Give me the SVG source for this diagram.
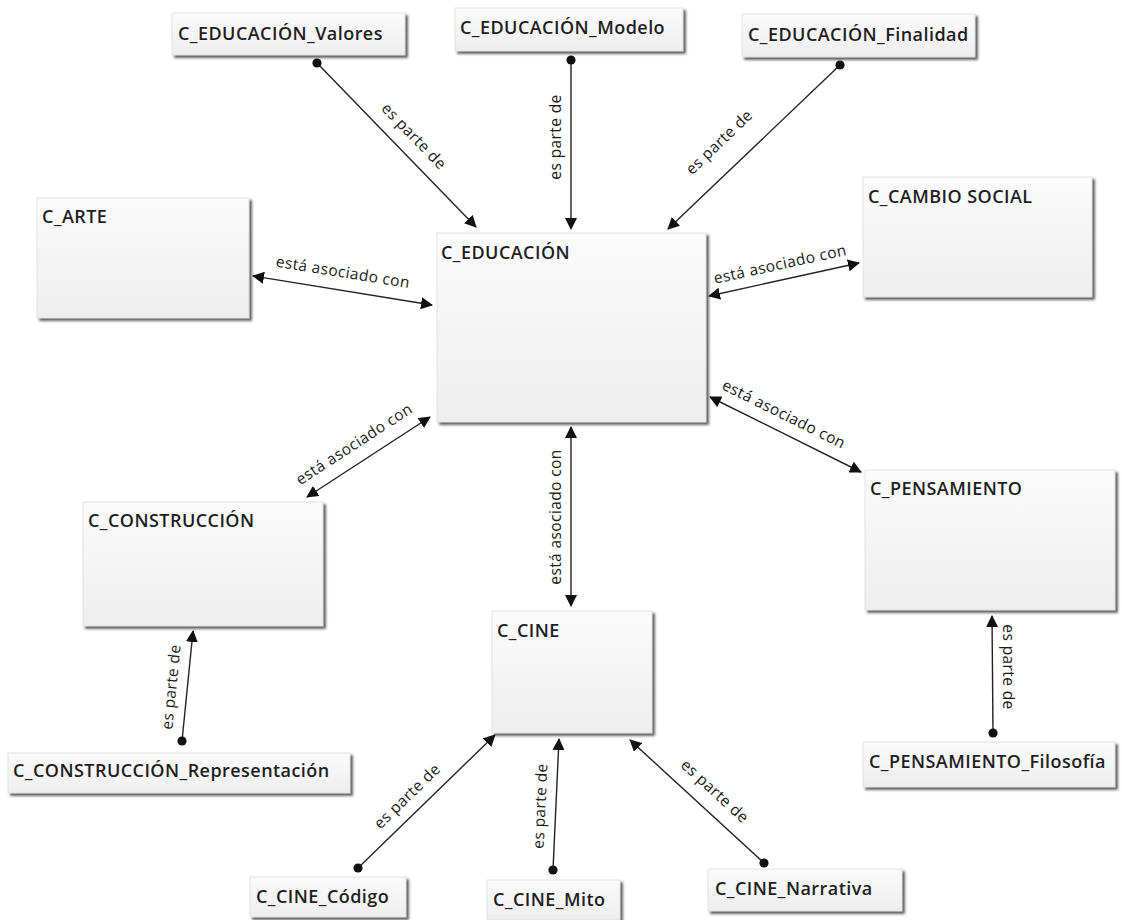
<svg xmlns="http://www.w3.org/2000/svg" width="1122" height="920" viewBox="0 0 1122 920">
<defs>
<linearGradient id="g" x1="0" y1="0" x2="0" y2="1"><stop offset="0" stop-color="#fbfbfb"/><stop offset="1" stop-color="#eeeeee"/></linearGradient>
<filter id="sh" x="-10%" y="-10%" width="125%" height="130%"><feDropShadow dx="2.5" dy="2.5" stdDeviation="1" flood-color="#404040" flood-opacity="0.85"/></filter>
<marker id="arr" viewBox="0 0 12 12" refX="11" refY="6" markerWidth="12" markerHeight="12" markerUnits="userSpaceOnUse" orient="auto-start-reverse"><path d="M0,0 L12,6 L0,12 z" fill="#111"/></marker>
<marker id="dot" viewBox="0 0 10 10" refX="5" refY="5" markerWidth="10" markerHeight="10" markerUnits="userSpaceOnUse"><circle cx="5" cy="5" r="4.6" fill="#111"/></marker>
</defs>
<style>
.box{fill:url(#g);stroke:#dcdcdc;stroke-width:0.8;filter:url(#sh)}
.t{font-family:"Open Sans","Noto Sans",sans-serif;font-weight:600;font-size:18px;letter-spacing:0.45px;fill:#1e1e1e}
.c{fill:none;stroke:#222;stroke-width:1.4}
.p{marker-start:url(#dot);marker-end:url(#arr)}
.a{marker-start:url(#arr);marker-end:url(#arr)}
.l{font-family:"Open Sans","Noto Sans",sans-serif;font-size:15.5px;letter-spacing:0.4px;fill:#1a1a1a;text-anchor:middle}
</style>
<rect width="1122" height="920" fill="#ffffff"/>
<g id="connectors">
<path class="c p" d="M317,63 L476,227"/>
<text class="l" transform="translate(414,136) rotate(45.9)" dy="0.35em">es parte de</text>
<path class="c p" d="M571,60 L571,229"/>
<text class="l" transform="translate(556,137) rotate(-90)" dy="0.35em">es parte de</text>
<path class="c p" d="M840,65 L668,229"/>
<text class="l" transform="translate(719,142) rotate(-43.8)" dy="0.35em">es parte de</text>
<path class="c a" d="M253,276 L432,305"/>
<text class="l" transform="translate(343,272) rotate(9.2)" dy="0.35em">está asociado con</text>
<path class="c a" d="M709,296 L859,263"/>
<text class="l" transform="translate(780,264) rotate(-12.4)" dy="0.35em">está asociado con</text>
<path class="c a" d="M710,397 L861,472"/>
<text class="l" transform="translate(784,414) rotate(26.4)" dy="0.35em">está asociado con</text>
<path class="c a" d="M307,497 L430,417"/>
<text class="l" transform="translate(354,444) rotate(-33)" dy="0.35em">está asociado con</text>
<path class="c a" d="M571,427 L571,606"/>
<text class="l" transform="translate(556,517) rotate(-90)" dy="0.35em">está asociado con</text>
<path class="c p" d="M182,741 L193,631"/>
<text class="l" transform="translate(171,687) rotate(-84.3)" dy="0.35em">es parte de</text>
<path class="c p" d="M358,868 L495,735"/>
<text class="l" transform="translate(407,796) rotate(-44.2)" dy="0.35em">es parte de</text>
<path class="c p" d="M553,870 L559,739"/>
<text class="l" transform="translate(540,806) rotate(-87.4)" dy="0.35em">es parte de</text>
<path class="c p" d="M764,863 L630,740"/>
<text class="l" transform="translate(715,791) rotate(42.5)" dy="0.35em">es parte de</text>
<path class="c p" d="M993,733 L992,616"/>
<text class="l" transform="translate(1008,667) rotate(90)" dy="0.35em">es parte de</text>
</g>
<g id="n_valores"><rect class="box" x="172" y="13" width="233" height="42"/><text class="t" x="178" y="40">C_EDUCACIÓN_Valores</text></g>
<g id="n_modelo"><rect class="box" x="455" y="8" width="228" height="43"/><text class="t" x="460" y="34">C_EDUCACIÓN_Modelo</text></g>
<g id="n_finalidad"><rect class="box" x="742" y="14" width="233" height="43"/><text class="t" x="748" y="41">C_EDUCACIÓN_Finalidad</text></g>
<g id="n_arte"><rect class="box" x="37" y="198" width="212" height="120"/><text class="t" x="42" y="223">C_ARTE</text></g>
<g id="n_educacion"><rect class="box" x="437" y="233" width="269" height="189"/><text class="t" x="441" y="259">C_EDUCACIÓN</text></g>
<g id="n_cambio"><rect class="box" x="863" y="177" width="229" height="120"/><text class="t" x="868" y="203">C_CAMBIO SOCIAL</text></g>
<g id="n_construccion"><rect class="box" x="83" y="502" width="240" height="124"/><text class="t" x="88" y="527">C_CONSTRUCCIÓN</text></g>
<g id="n_representacion"><rect class="box" x="8" y="753" width="342" height="40"/><text class="t" x="13" y="777">C_CONSTRUCCIÓN_Representación</text></g>
<g id="n_cine"><rect class="box" x="492" y="611" width="160" height="122"/><text class="t" x="497" y="637">C_CINE</text></g>
<g id="n_pensamiento"><rect class="box" x="865" y="470" width="250" height="140"/><text class="t" x="870" y="495">C_PENSAMIENTO</text></g>
<g id="n_filosofia"><rect class="box" x="863" y="742" width="252" height="45"/><text class="t" x="869" y="768">C_PENSAMIENTO_Filosofía</text></g>
<g id="n_codigo"><rect class="box" x="250" y="877" width="156" height="40"/><text class="t" x="256" y="903">C_CINE_Código</text></g>
<g id="n_mito"><rect class="box" x="487" y="880" width="133" height="40"/><text class="t" x="493" y="906">C_CINE_Mito</text></g>
<g id="n_narrativa"><rect class="box" x="708" y="869" width="194" height="42"/><text class="t" x="715" y="895">C_CINE_Narrativa</text></g>
</svg>
